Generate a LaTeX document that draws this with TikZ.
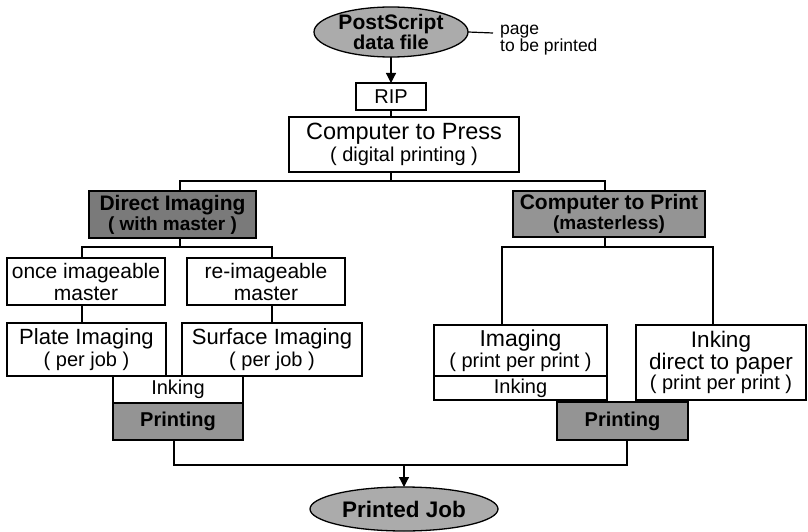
\documentclass[tikz,border=0pt]{standalone}
\usepackage{fontspec}
\setmainfont{Liberation Sans}
\usetikzlibrary{arrows.meta,shapes.geometric}

\newcommand{\tx}[2]{\fontsize{#1}{#2}\selectfont}

\begin{document}
\begin{tikzpicture}[x=1pt,y=-1pt,
  box/.style={draw=black,line width=1.6pt,rectangle,inner sep=0pt,outer sep=0pt,
              align=center,fill=white,font=\tx{21}{22}},
  shadebox/.style={box,fill=black!42,font=\bfseries\tx{20}{20}},
  darkbox/.style={box,fill=black!52,font=\bfseries\tx{21}{20}},
  oval/.style={ellipse,draw=black,line width=1.3pt,fill=black!33,inner sep=0pt,
               outer sep=0pt,align=center,font=\bfseries\tx{21}{18}},
  link/.style={draw=black,line width=1.2pt},
  arrow/.style={link,-{Triangle[width=10pt,length=10pt]}}
]
\useasboundingbox (0,0) rectangle (808,532);

% --- top: data file, RIP, computer to press
\node[oval,minimum width=154,minimum height=50] (ps) at (391,32) {PostScript\\{\tx{20}{18}data file}};
\node[anchor=west,align=left,inner sep=0pt,font=\tx{17.5}{14}] (note) at (500,40) {page\\to be printed};
\coordinate (pn) at (493,33);
\draw[link] (ps.east) -- (pn);

\node[box,minimum width=70,minimum height=27,font=\tx{20}{20}] (rip) at (391,96.5) {RIP};
\node[box,minimum width=230,minimum height=55] (ctp) at (404,144.5)
  {{\tx{23.5}{25}Computer to Press}\\{\tx{20}{22}( digital printing )}};

\draw[arrow] (ps.south) -- (rip.north);
\draw[link] (rip.south) -- (rip.south |- ctp.north);

% --- first split
\coordinate (t1) at (391,181);
\coordinate (dL) at (180,181);
\coordinate (dR) at (605,181);

\node[darkbox,minimum width=167,minimum height=47] (di) at (172.5,214.5)
  {Direct Imaging\\{\tx{19}{20}( with master )}};
\node[shadebox,minimum width=192,minimum height=46,font=\bfseries\tx{21}{20}] (cpr) at (609,214)
  {Computer to Print\\{\tx{19}{20}(masterless)}};

\draw[link] (ctp.south -| t1) -- (t1);
\draw[link] (di.north -| dL) -- (dL) -- (dR) -- (cpr.north -| dR);

% --- left branch: with master
\coordinate (s1) at (180,247);
\coordinate (sL) at (82,247);
\coordinate (sR) at (272,247);

\node[box,minimum width=158,minimum height=47] (once) at (86,281.5) {once imageable\\master};
\node[box,minimum width=158,minimum height=47] (re) at (266,281.5) {re-imageable\\master};
\node[box,minimum width=159,minimum height=53,font=\tx{22}{22}] (plate) at (86.5,349.5)
  {Plate Imaging\\{\tx{20}{22}( per job )}};
\node[box,minimum width=180,minimum height=53,font=\tx{22}{22}] (surf) at (272,349.5)
  {Surface Imaging\\{\tx{20}{22}( per job )}};

\draw[link] (di.south -| s1) -- (s1);
\draw[link] (once.north -| sL) -- (sL) -- (sR) -- (re.north -| sR);
\draw[link] (once.south -| sL) -- (plate.north -| sL);
\draw[link] (re.south -| sR) -- (surf.north -| sR);

\node[box,minimum width=130,minimum height=27,font=\tx{20}{20}] (inkL) at (178,389.5) {Inking};
\node[shadebox,minimum width=130,minimum height=37] (prL) at (178,421.5) {Printing};

% --- right branch: masterless
\coordinate (r1) at (605,247);
\coordinate (rL) at (502,247);
\coordinate (rR) at (713,247);

\node[box,minimum width=173,minimum height=51,font=\tx{23}{21}] (img) at (520.5,350.5)
  {Imaging\\{\tx{20}{21}( print per print )}};
\node[box,minimum width=173,minimum height=24,font=\tx{20}{20}] (inkR) at (520.5,388) {Inking};
\node[box,minimum width=170,minimum height=75,font=\tx{22.5}{20}] (ink) at (721,362.5)
  {Inking\\direct to paper\\{\tx{20}{21}( print per print )}};
\node[shadebox,minimum width=131,minimum height=38] (prR) at (622.5,421) {Printing};

\draw[link] (cpr.south -| r1) -- (r1);
\draw[link] (img.north -| rL) -- (rL) -- (rR) -- (ink.north -| rR);

% --- merge into the printed job
\coordinate (bL) at (174,465);
\coordinate (bR) at (627,465);
\coordinate (bM) at (404,465);

\node[oval,minimum width=188,minimum height=44,font=\bfseries\tx{22.5}{22}] (job) at (404,509) {Printed Job};

\draw[link] (prL.south -| bL) -- (bL) -- (bR) -- (prR.south -| bR);
\draw[arrow] (bM) -- (job.north);
\end{tikzpicture}
\end{document}
